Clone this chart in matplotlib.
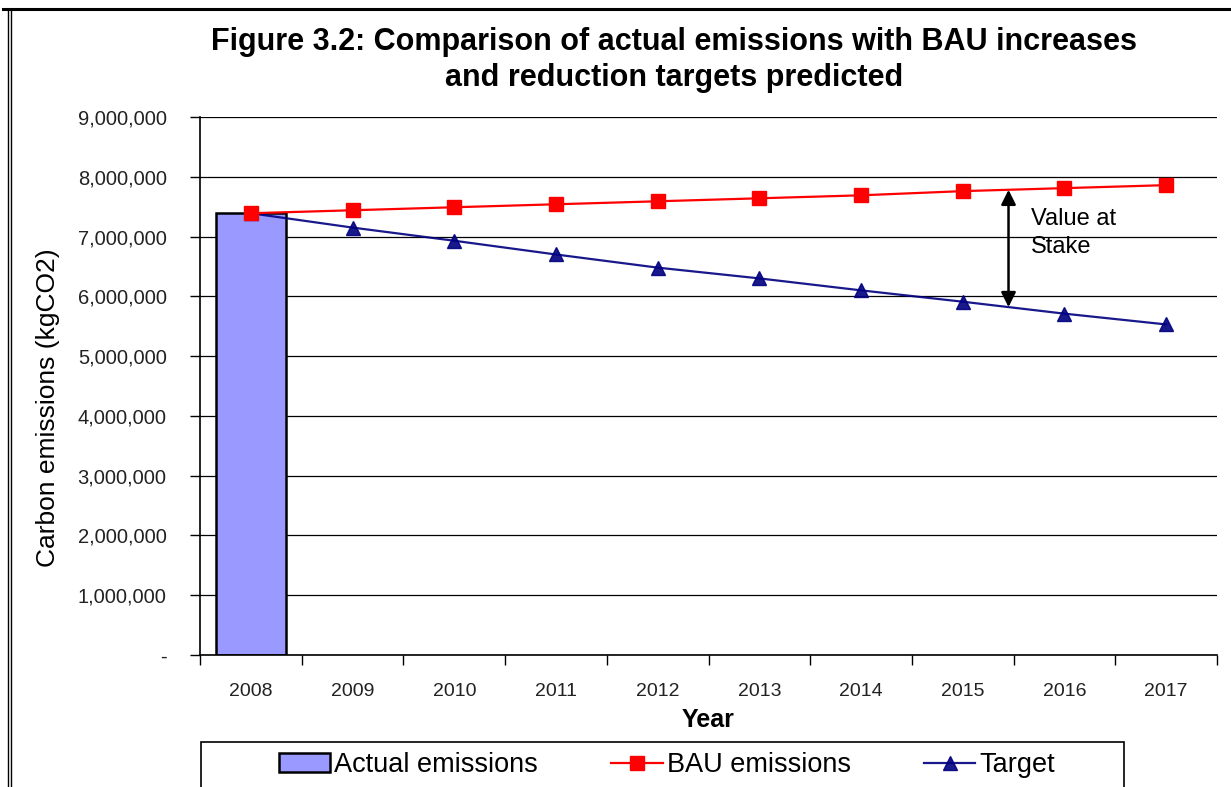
import numpy as np
import matplotlib
matplotlib.use("Agg")
import matplotlib.pyplot as plt
from matplotlib.patches import Rectangle
from matplotlib.lines import Line2D
from matplotlib.ticker import FuncFormatter

plt.rcParams['font.family'] = ['Liberation Sans', 'DejaVu Sans']

# emissions in kgCO2
years = ['2008', '2009', '2010', '2011', '2012', '2013', '2014', '2015', '2016', '2017']
actual = [7390000]
bau = [7390000, 7440000, 7490000, 7540000, 7590000, 7640000, 7690000, 7760000, 7810000, 7860000]
target = [7390000, 7150000, 6930000, 6700000, 6480000, 6300000, 6100000, 5910000, 5710000, 5530000]

W, H = 1231, 787
fig = plt.figure(figsize=(W / 100, H / 100), dpi=100)
ax = fig.add_axes([200 / W, 1 - 655 / H, 1017 / W, 538 / H])

x = np.arange(len(years))
h_bar = ax.bar(x[:len(actual)], actual, width=0.69, color='#9999ff', edgecolor='black',
               linewidth=1.8, zorder=2, label='Actual emissions')
h_bau, = ax.plot(x, bau, color='#ff0000', lw=1.6, marker='s', ms=10, zorder=4,
                 label='BAU emissions')
h_tgt, = ax.plot(x, target, color='#000080', lw=1.6, marker='^', ms=10, zorder=3,
                 label='Target', alpha=0.9)

ax.set_xlim(-0.5, len(years) - 0.5)
ax.set_ylim(0, 9000000)
ax.set_yticks(np.arange(0, 9000001, 1000000))
ax.yaxis.set_major_formatter(FuncFormatter(lambda v, p: '-' if v == 0 else f'{v:,.0f}'))
ax.yaxis.grid(True, color='black', lw=0.9)
ax.set_axisbelow(True)

ax.set_xticks(x)
ax.set_xticklabels(years)
ax.set_xticks(np.arange(-0.5, len(years)), minor=True)
ax.tick_params(axis='x', which='major', length=0, pad=20, labelsize=14, labelcolor='#222222')
ax.tick_params(axis='x', which='minor', length=7, width=1, direction='out')
ax.tick_params(axis='y', length=7, width=1, pad=17, labelsize=14.5, labelcolor='#222222')

for s in ['top', 'right']:
    ax.spines[s].set_visible(False)
for s in ['left', 'bottom']:
    ax.spines[s].set_linewidth(1.2)

ax.set_xlabel('Year', fontsize=18, fontweight='bold', labelpad=6)
ax.set_ylabel('Carbon emissions (kgCO2)', fontsize=19)
ax.yaxis.set_label_coords(-0.138, 0.46)

# gap between BAU and target
xa = 7.45
y_top = np.interp(xa, x, bau)
y_bot = np.interp(xa, x, target)
ax.annotate('', xy=(xa, y_top), xytext=(xa, y_bot),
            arrowprops=dict(arrowstyle='<|-|>', color='black', lw=1.8,
                            mutation_scale=22, shrinkA=0, shrinkB=0), zorder=5)
ax.text(7.67, 7470000, 'Value at\nStake', fontsize=17, va='top', ha='left',
        linespacing=1.3)

fig.text(674 / W, 1 - 60 / H,
         'Figure 3.2: Comparison of actual emissions with BAU increases\nand reduction targets predicted',
         ha='center', va='center', fontsize=22, fontweight='bold', linespacing=1.25)

# legend box runs off the bottom edge
fig.patches.append(Rectangle((201 / W, 1 - 810 / H), 923 / W, 68 / H, transform=fig.transFigure,
                             fill=False, edgecolor='black', lw=1.2))
fig.legend([h_bar, h_bau, h_tgt], ['Actual emissions', 'BAU emissions', 'Target'],
           loc='center', bbox_to_anchor=(667 / W, 1 - 765 / H), ncol=3, frameon=False,
           fontsize=19.5, handlelength=1.9, handletextpad=0.15, columnspacing=2.7,
           borderaxespad=0)

# outer frame
fig.lines.append(Line2D([3 / W, 1], [1 - 9 / H, 1 - 9 / H], transform=fig.transFigure,
                        color='black', lw=2.2))
for xl in (8, 11):
    fig.lines.append(Line2D([xl / W, xl / W], [0, 1 - 9 / H], transform=fig.transFigure,
                            color='black', lw=1.0))

fig.savefig('out.png', dpi=100)
